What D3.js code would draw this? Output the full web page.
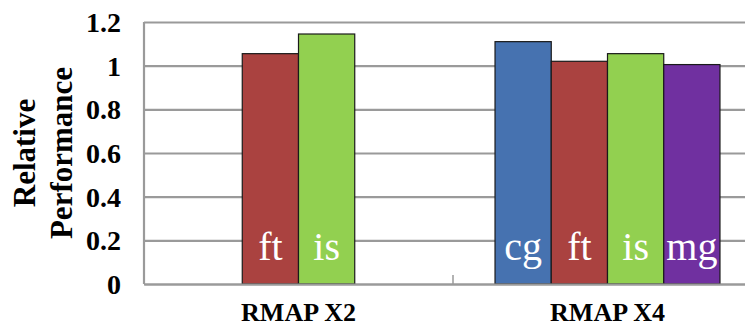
<!DOCTYPE html>
<html>
<head>
<meta charset="utf-8">
<script src="https://cdn.jsdelivr.net/npm/d3@7/dist/d3.min.js"></script>
<style>
  html, body { margin: 0; padding: 0; background: #fff; }
  svg { display: block; }
</style>
</head>
<body>
<svg id="chart" width="745" height="327"></svg>
<script>
// Benchmarks grouped by RMAP configuration
const categories = ["RMAP X2", "RMAP X4"];
const series = ["cg", "ft", "is", "mg"];
const cgValues = [null, 1.11];
const ftValues = [1.055, 1.02];
const isValues = [1.145, 1.055];
const mgValues = [null, 1.005];
const yTicks = [0, 0.2, 0.4, 0.6, 0.8, 1, 1.2];
const colors = ["#4672B0", "#AA4240", "#92D050", "#7030A0"];

const valuesBySeries = { cg: cgValues, ft: ftValues, is: isValues, mg: mgValues };
const serif = '"Liberation Serif"';

const svg = d3.select("#chart");
const plot = { left: 144, right: 762, top: 22, bottom: 284 };

const x0 = d3.scaleBand().domain(categories).range([plot.left, plot.right]).padding(0);
const bw = x0.bandwidth();
const x1 = d3.scaleBand().domain(series).range([bw * 0.136, bw * 0.864]).padding(0);
const y = d3.scaleLinear().domain([0, 1.2]).range([plot.bottom, plot.top]);
const color = d3.scaleOrdinal().domain(series).range(colors);

// Gridlines and value labels
const yAxis = d3.axisLeft(y)
  .tickValues(yTicks)
  .tickSize(-(plot.right - plot.left))
  .tickPadding(23)
  .tickFormat(d => String(+d.toFixed(1)));

const gy = svg.append("g")
  .attr("transform", `translate(${plot.left},0)`)
  .call(yAxis);
gy.select(".domain").remove();
gy.selectAll(".tick line").attr("stroke", "#9a9a9a").attr("stroke-width", 2.2);
gy.selectAll(".tick text")
  .style("font-family", serif)
  .style("font-size", "28px")
  .style("font-weight", "bold")
  .attr("fill", "#000")
  .attr("dy", "0.34em");

// Left axis line
svg.append("line")
  .attr("x1", plot.left).attr("x2", plot.left)
  .attr("y1", y(1.2)).attr("y2", y(0))
  .attr("stroke", "#9a9a9a").attr("stroke-width", 2.2);

// Bars
const rows = categories.map((c, i) => ({
  cat: c,
  bars: series.map(s => ({ key: s, value: valuesBySeries[s][i] })).filter(b => b.value != null)
}));

const groups = svg.append("g").selectAll("g")
  .data(rows)
  .join("g")
  .attr("transform", d => `translate(${x0(d.cat)},0)`);

groups.selectAll("rect")
  .data(d => d.bars)
  .join("rect")
  .attr("x", d => x1(d.key))
  .attr("y", d => y(d.value))
  .attr("width", x1.bandwidth())
  .attr("height", d => y(0) - y(d.value))
  .attr("fill", d => color(d.key))
  .attr("stroke", "#1a1a1a")
  .attr("stroke-width", 1.2);

groups.selectAll("text.bar-label")
  .data(d => d.bars)
  .join("text")
  .attr("class", "bar-label")
  .attr("x", d => x1(d.key) + x1.bandwidth() / 2)
  .attr("y", 260)
  .attr("text-anchor", "middle")
  .style("font-family", serif)
  .style("font-size", "40px")
  .attr("fill", "#fff")
  .text(d => d.key);

// Category axis
const xAxis = d3.axisBottom(x0).tickSize(0).tickPadding(19);
const gx = svg.append("g")
  .attr("transform", `translate(0,${plot.bottom})`)
  .call(xAxis);
gx.select(".domain").attr("stroke", "#9a9a9a").attr("stroke-width", 2.2);
gx.selectAll(".tick text")
  .style("font-family", serif)
  .style("font-size", "26px")
  .style("font-weight", "bold")
  .attr("fill", "#000")
  .attr("dy", "0.71em");

// Inner tick marks between categories
svg.append("g").selectAll("line")
  .data(categories.slice(1))
  .join("line")
  .attr("x1", d => x0(d)).attr("x2", d => x0(d))
  .attr("y1", plot.bottom).attr("y2", plot.bottom - 9)
  .attr("stroke", "#9a9a9a").attr("stroke-width", 1.5);

// Axis title
const midY = (plot.top + plot.bottom) / 2;
const title = svg.append("text")
  .attr("transform", `translate(35,${midY}) rotate(-90)`)
  .attr("text-anchor", "middle")
  .style("font-family", serif)
  .style("font-size", "31px")
  .style("font-weight", "bold")
  .attr("fill", "#000");
title.append("tspan").attr("x", 0).attr("y", 0).text("Relative");
title.append("tspan").attr("x", 0).attr("y", 37).text("Performance");
</script>
</body>
</html>
